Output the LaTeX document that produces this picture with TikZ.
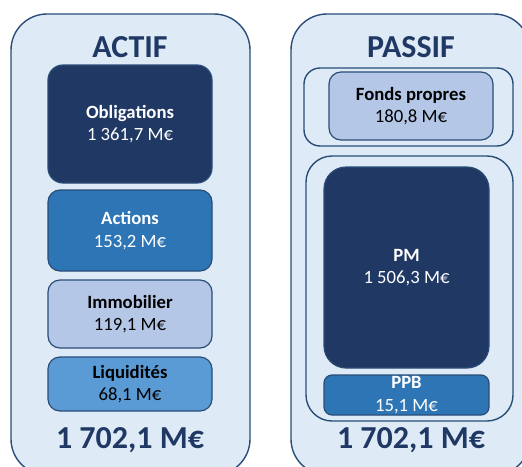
\documentclass[tikz,border=0pt]{standalone}
\usepackage{fontspec}
\setmainfont{Carlito}
\definecolor{navy}{HTML}{203864}
\definecolor{edge}{HTML}{2A4D78}
\definecolor{pale}{HTML}{DEEBF7}
\definecolor{mid}{HTML}{2E75B6}
\definecolor{soft}{HTML}{B4C7E7}
\definecolor{sky}{HTML}{5B9BD5}
\begin{document}
\begin{tikzpicture}[
  x=1pt, y=-1pt,
  every node/.style={
    align=center,
    inner sep=0pt,
    font=\fontsize{18.7pt}{22.5pt}\selectfont
  },
  frame/.style={
    draw=edge,
    line width=1.4pt,
    fill=pale
  },
  item/.style={
    draw=edge,
    line width=1.2pt,
    rounded corners=12pt,
    minimum width=164pt
  },
  total/.style={
    text=navy,
    font=\fontsize{32pt}{36pt}\selectfont\bfseries
  }
]
\useasboundingbox (0,0) rectangle (522,466);
% two columns
\node[frame, rounded corners=36pt, minimum width=239pt, minimum height=461pt] (actif) at (130.5,244.5) {};
\node[frame, rounded corners=36pt, minimum width=239pt, minimum height=461pt] (passif) at (410.5,244.5) {};
\node[total] (tactif) at (130,47) {ACTIF};
\node[total] (tpassif) at (411,47) {PASSIF};
% assets
\node[item, fill=navy, text=white, rounded corners=15pt, minimum height=118pt] (oblig) at (130,124) {\textbf{Obligations}\\1 361,7 M€};
\node[item, fill=mid, text=white, minimum height=81pt] (actions) at (130,230.5) {\textbf{Actions}\\153,2 M€};
\node[item, fill=soft, minimum height=68pt] (immo) at (130,314) {\textbf{Immobilier}\\119,1 M€};
\node[item, fill=sky, minimum height=54pt] (liq) at (130,384) {\textbf{Liquidités}\\68,1 M€};
\node[total] (sactif) at (130,440) {1 702,1 M€};
% liabilities
\node[frame, rounded corners=16pt, minimum width=209pt, minimum height=78pt] (fpframe) at (408.5,107) {};
\node[item, fill=soft, minimum height=68pt] (fp) at (411,106) {\textbf{Fonds propres}\\180,8 M€};
\node[frame, rounded corners=26pt, minimum width=207pt, minimum height=265pt] (techframe) at (409.5,288.5) {};
\node[item, fill=navy, text=white, rounded corners=22pt, minimum width=165pt, minimum height=201pt] (pm) at (406.5,267.5) {\textbf{PM}\\1 506,3 M€};
\node[item, fill=mid, text=white, rounded corners=8pt, minimum width=165pt, minimum height=40pt] (ppb) at (406.5,395) {\textbf{PPB}\\15,1 M€};
\node[total] (spassif) at (411,440) {1 702,1 M€};
\end{tikzpicture}
\end{document}
